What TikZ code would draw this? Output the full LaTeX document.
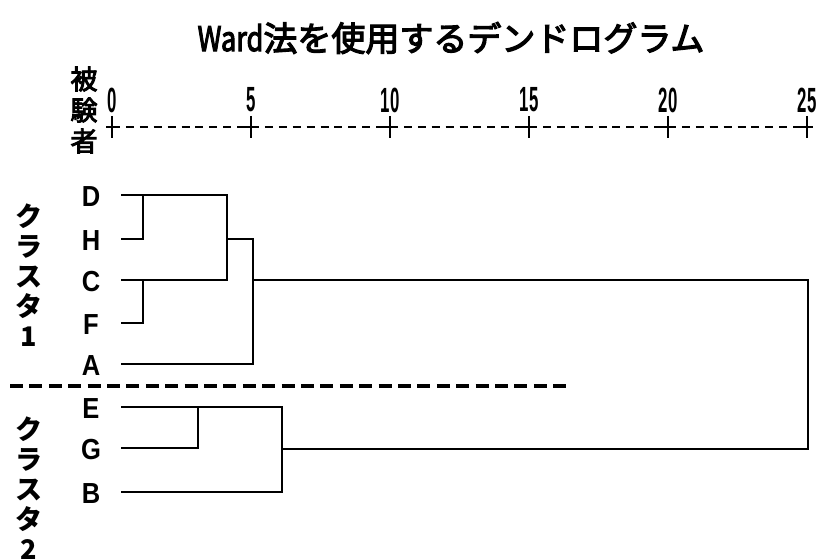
\documentclass[tikz,border=0pt]{standalone}
\usepackage{fontspec}
\setmainfont{Liberation Sans}
\newfontfamily\jp{Noto Sans CJK JP}
\newfontfamily\jpm[FakeBold=3.5]{Noto Sans CJK JP}
\usetikzlibrary{calc}
\tikzset{
  tree/.style={line width=2.9pt, line join=miter},
  leaf/.style={font=\fontsize{29}{29}\selectfont\bfseries, inner sep=0pt, anchor=center},
  num/.style={font=\fontsize{35}{35}\selectfont\bfseries, inner sep=0pt},
  clab/.style={font=\jp\bfseries\fontsize{27}{30}\selectfont, align=center, inner sep=0pt},
}
\begin{document}
\begin{tikzpicture}[x=1pt,y=-1pt]
\useasboundingbox (0,0) rectangle (816,559);
% title
\node[font=\jpm\fontsize{34}{34}\selectfont, inner sep=0pt] (title) at (451,38) {\scalebox{0.8}[1]{Ward}法を使用するデンドログラム};
% subject label
\node[font=\jpm\fontsize{27}{31}\selectfont, align=center, inner sep=0pt] (subj) at (84,110) {被\\験\\者};
% axis
\foreach \k/\v in {0/0,1/5,2/10,3/15,4/20,5/25}{
  \coordinate (t\k) at ({112+\k*139},127);
  \node[num] (n\k) at ({112+\k*139},100) {\scalebox{0.48}[1]{\v}};
}
\draw[line width=2.6pt, dash pattern=on 8pt off 5.9pt] (t0) -- (t5);
\foreach \k in {0,...,5}{
  \draw[line width=2.6pt] ($(t\k)+(0,-11)$) -- ($(t\k)+(0,11)$);
  \draw[line width=2.6pt] ($(t\k)+(-6,0)$) -- ($(t\k)+(6,0)$);
}
% leaves
\foreach \n/\y in {D/195,H/239,C/280,F/323,A/364,E/407,G/448,B/492}{
  \node[leaf] (l\n) at (91,\y+2) {\scalebox{0.88}[1]{\n}};
  \coordinate (s\n) at (121,\y);
}
% cluster labels
\node[clab] (c1) at (29,275) {ク\\ラ\\ス\\タ\\1};
\node[clab] (c2) at (29,488) {ク\\ラ\\ス\\タ\\2};
% separator
\coordinate (sepL) at (10,386);
\coordinate (sepR) at (567,386);
\draw[line width=4.5pt, dash pattern=on 13pt off 6.4pt] (sepL) -- (sepR);
% junction coordinates
\coordinate (jDH) at (143,195);
\coordinate (jCF) at (143,280);
\coordinate (jDHCF) at (227,239);
\coordinate (j1) at (253,280);
\coordinate (jEG) at (198,448);
\coordinate (j2) at (282,449);
\coordinate (root) at (808,280);
% tree
\draw[tree] (sD) -- (sD -| jDHCF) -- (jCF -| jDHCF) -- (sC);
\draw[tree] (sH) -- (sH -| jDH) -- (jDH);
\draw[tree] (sF) -- (sF -| jCF) -- (jCF);
\draw[tree] (jDHCF) -- (jDHCF -| j1) -- (sA -| j1) -- (sA);
\draw[tree] (j1) -- (root) -- (root |- j2) -- (j2);
\draw[tree] (sE) -- (sE -| j2) -- (sB -| j2) -- (sB);
\draw[tree] (sG) -- (jEG) -- (sE -| jEG);
\end{tikzpicture}
\end{document}
